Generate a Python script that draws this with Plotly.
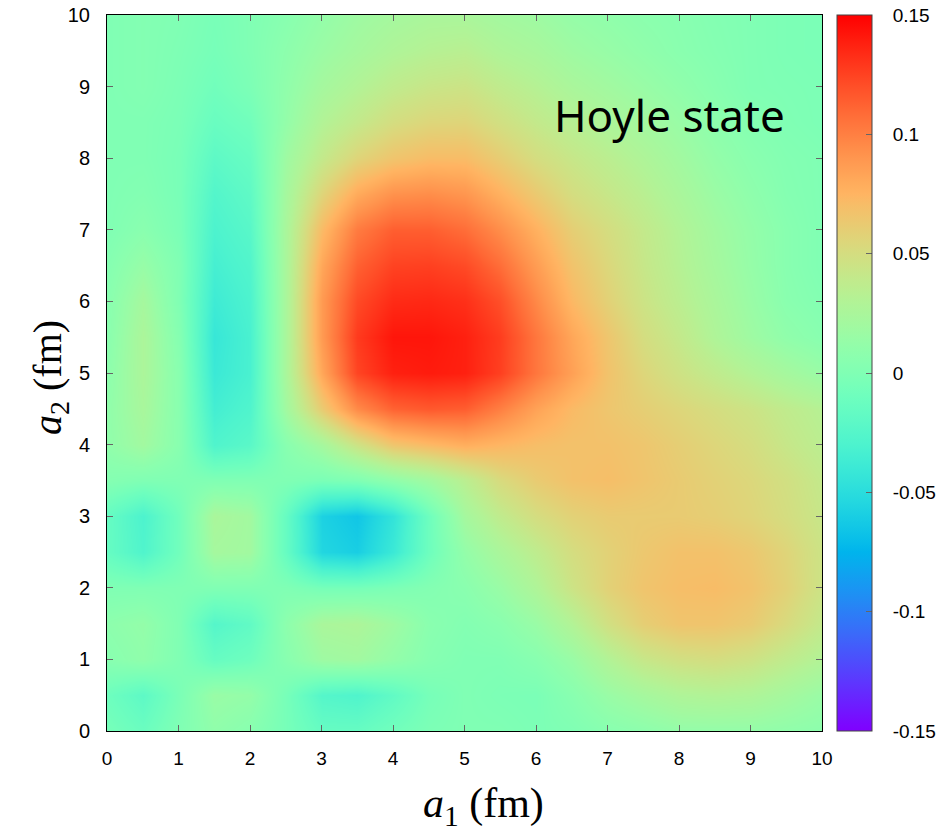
import numpy as np
import plotly.graph_objects as go

# grid coordinates (fm)
a1 = [0.0, 0.5, 1.0, 1.5, 2.0, 2.5, 3.0, 3.5, 4.0, 4.5, 5.0,
      5.5, 6.0, 6.5, 7.0, 7.5, 8.0, 8.5, 9.0, 9.5, 10.0]
a2 = [0.0, 0.5, 1.0, 1.5, 2.0, 2.5, 3.0, 3.5, 4.0, 4.5, 5.0,
      5.5, 6.0, 6.5, 7.0, 7.5, 8.0, 8.5, 9.0, 9.5, 10.0]

# values, one row per a2 value (bottom to top), columns = a1
row_00 = [-0.005, -0.012, 0.000, 0.010, 0.005, -0.005, -0.015, -0.015, -0.008, -0.002, 0.000, 0.000, -0.002, 0.000, 0.005, 0.008, 0.012, 0.012, 0.012, 0.010, 0.008]
row_05 = [-0.010, -0.020, -0.003, 0.015, 0.012, -0.005, -0.025, -0.028, -0.018, -0.005, 0.000, -0.002, -0.003, 0.005, 0.015, 0.022, 0.028, 0.030, 0.028, 0.022, 0.015]
row_10 = [0.005, 0.010, 0.000, -0.015, -0.010, 0.005, 0.018, 0.020, 0.012, 0.004, 0.000, 0.000, 0.005, 0.015, 0.030, 0.042, 0.048, 0.050, 0.046, 0.038, 0.030]
row_15 = [0.008, 0.012, 0.000, -0.025, -0.018, 0.008, 0.025, 0.027, 0.018, 0.006, 0.002, 0.006, 0.015, 0.030, 0.048, 0.060, 0.066, 0.066, 0.062, 0.052, 0.040]
row_20 = [0.000, 0.000, 0.000, 0.000, 0.000, 0.000, -0.005, -0.005, -0.002, 0.002, 0.006, 0.015, 0.028, 0.045, 0.058, 0.066, 0.070, 0.071, 0.067, 0.058, 0.045]
row_25 = [-0.015, -0.028, -0.008, 0.022, 0.020, -0.015, -0.055, -0.060, -0.040, -0.010, 0.012, 0.025, 0.037, 0.050, 0.058, 0.064, 0.068, 0.068, 0.064, 0.056, 0.045]
row_30 = [-0.015, -0.030, -0.008, 0.025, 0.020, -0.015, -0.058, -0.065, -0.045, -0.010, 0.022, 0.038, 0.050, 0.058, 0.062, 0.062, 0.062, 0.060, 0.056, 0.050, 0.042]
row_35 = [0.003, 0.000, 0.000, 0.000, 0.000, 0.000, -0.003, 0.000, 0.010, 0.020, 0.035, 0.052, 0.062, 0.068, 0.070, 0.066, 0.062, 0.058, 0.054, 0.048, 0.040]
row_40 = [0.010, 0.020, 0.005, -0.028, -0.022, 0.005, 0.022, 0.045, 0.065, 0.072, 0.078, 0.074, 0.070, 0.068, 0.068, 0.065, 0.060, 0.055, 0.050, 0.042, 0.035]
row_45 = [0.010, 0.024, 0.005, -0.035, -0.028, 0.020, 0.062, 0.095, 0.112, 0.116, 0.114, 0.100, 0.084, 0.072, 0.065, 0.060, 0.055, 0.050, 0.045, 0.038, 0.032]
row_50 = [0.008, 0.026, 0.005, -0.040, -0.032, 0.025, 0.082, 0.124, 0.138, 0.140, 0.138, 0.126, 0.104, 0.085, 0.067, 0.055, 0.046, 0.038, 0.030, 0.022, 0.015]
row_55 = [0.006, 0.026, 0.003, -0.042, -0.032, 0.025, 0.088, 0.128, 0.142, 0.142, 0.138, 0.127, 0.104, 0.082, 0.065, 0.050, 0.040, 0.028, 0.018, 0.010, 0.005]
row_60 = [0.005, 0.022, 0.000, -0.038, -0.030, 0.025, 0.088, 0.122, 0.134, 0.135, 0.132, 0.120, 0.096, 0.073, 0.058, 0.045, 0.035, 0.025, 0.015, 0.006, 0.002]
row_65 = [0.003, 0.014, 0.000, -0.034, -0.027, 0.025, 0.082, 0.113, 0.125, 0.126, 0.122, 0.108, 0.087, 0.067, 0.054, 0.042, 0.032, 0.022, 0.013, 0.005, 0.000]
row_70 = [0.000, 0.006, -0.003, -0.030, -0.023, 0.025, 0.072, 0.102, 0.114, 0.114, 0.108, 0.094, 0.077, 0.060, 0.050, 0.040, 0.030, 0.020, 0.012, 0.005, 0.000]
row_75 = [0.000, 0.002, -0.004, -0.026, -0.019, 0.022, 0.056, 0.080, 0.092, 0.094, 0.090, 0.077, 0.063, 0.050, 0.042, 0.034, 0.025, 0.016, 0.009, 0.003, 0.000]
row_80 = [0.000, 0.000, -0.004, -0.020, -0.014, 0.018, 0.040, 0.056, 0.066, 0.071, 0.071, 0.061, 0.050, 0.042, 0.035, 0.028, 0.020, 0.012, 0.006, 0.002, 0.000]
row_85 = [0.000, 0.000, -0.003, -0.013, -0.008, 0.012, 0.030, 0.040, 0.050, 0.055, 0.056, 0.048, 0.040, 0.033, 0.027, 0.021, 0.015, 0.008, 0.003, 0.000, -0.002]
row_90 = [0.000, 0.002, -0.002, -0.008, -0.002, 0.010, 0.022, 0.030, 0.038, 0.043, 0.045, 0.038, 0.032, 0.025, 0.020, 0.015, 0.010, 0.005, 0.000, -0.001, -0.002]
row_95 = [0.000, 0.002, -0.001, -0.005, 0.000, 0.008, 0.016, 0.022, 0.028, 0.032, 0.034, 0.028, 0.024, 0.018, 0.014, 0.010, 0.006, 0.003, 0.000, -0.002, -0.003]
row_100 = [0.000, 0.002, 0.000, -0.004, 0.000, 0.005, 0.012, 0.018, 0.022, 0.025, 0.025, 0.021, 0.018, 0.013, 0.010, 0.007, 0.005, 0.002, 0.000, -0.002, -0.003]

z_values = [row_00, row_05, row_10, row_15, row_20, row_25, row_30, row_35, row_40, row_45,
            row_50, row_55, row_60, row_65, row_70, row_75, row_80, row_85, row_90, row_95, row_100]

x_ticks = [0, 1, 2, 3, 4, 5, 6, 7, 8, 9, 10]
cb_tickvals = [-0.15, -0.1, -0.05, 0, 0.05, 0.1, 0.15]
cb_ticktext = ["-0.15", "-0.1", "-0.05", "0", "0.05", "0.1", "0.15"]
zmin, zmax = -0.15, 0.15

# gnuplot "rgbformulae 33,13,10" style palette
def palette(n=61):
    stops = []
    for i in range(n):
        t = i / (n - 1)
        r = min(1.0, abs(2 * t - 0.5))
        g = max(0.0, np.sin(np.pi * t))
        b = max(0.0, np.cos(np.pi * t / 2))
        stops.append([t, f"rgb({int(round(r*255))},{int(round(g*255))},{int(round(b*255))})"])
    return stops

PW, PH = 943, 832
L, R, T, B = 107, 121, 15, 101
plot_w = PW - L - R
plot_h = PH - T - B

# non-breaking spaces push the colour-bar labels away from the bar
pad = "\u00a0\u00a0\u00a0"

fig = go.Figure()
fig.add_trace(go.Heatmap(
    x=a1, y=a2, z=z_values,
    zmin=zmin, zmax=zmax, zsmooth="best",
    colorscale=palette(),
    colorbar=dict(
        x=(837 - L) / plot_w, xanchor="left", xpad=0,
        y=0.5, yanchor="middle", len=1.0, lenmode="fraction", ypad=0,
        thickness=35, outlinewidth=1, outlinecolor="#444",
        tickvals=cb_tickvals, ticktext=[pad + t for t in cb_ticktext],
        ticks="inside", ticklen=6, tickcolor="#666",
        tickfont=dict(family="Liberation Sans", size=19, color="black"),
    ),
))

axis_common = dict(
    range=[0, 10], tickvals=x_ticks, ticks="inside", ticklen=6, tickcolor="#666",
    showline=True, linecolor="black", linewidth=1, mirror="allticks",
    showgrid=False, zeroline=False,
)
fig.update_xaxes(**axis_common, ticklabelstandoff=10,
                 tickfont=dict(family="Liberation Sans", size=19, color="black"))
fig.update_yaxes(**axis_common, ticklabelstandoff=12,
                 tickfont=dict(family="Liberation Sans", size=20, color="black"))

fig.add_annotation(
    text="<i>a</i><sub>1</sub> (fm)", xref="paper", yref="paper",
    x=(484 - L) / plot_w, y=(731 - 806) / plot_h,
    showarrow=False, xanchor="center", yanchor="middle",
    font=dict(family="Liberation Serif", size=42, color="black"),
)
fig.add_annotation(
    text="<i>a</i><sub>2</sub> (fm)", xref="paper", yref="paper",
    x=(50 - L) / plot_w, y=(731 - 378) / plot_h, textangle=-90,
    showarrow=False, xanchor="center", yanchor="middle",
    font=dict(family="Liberation Serif", size=40, color="black"),
)
fig.add_annotation(
    text="Hoyle state", xref="x", yref="y", x=6.22, y=8.61,
    showarrow=False, xanchor="left", yanchor="middle",
    font=dict(family="Noto Sans", size=44, color="black"),
)

fig.update_layout(
    width=PW, height=PH,
    margin=dict(l=L, r=R, t=T, b=B, pad=0, autoexpand=False),
    paper_bgcolor="white", plot_bgcolor="white",
)

fig.write_html("out.html")
